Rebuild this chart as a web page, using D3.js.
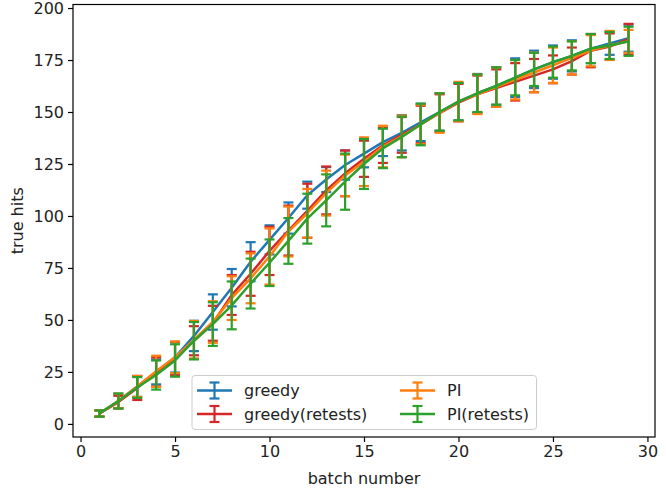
<!DOCTYPE html>
<html>
<head>
<meta charset="utf-8">
<script src="https://cdn.jsdelivr.net/npm/d3@7"></script>
<style>
  html, body { margin: 0; padding: 0; background: #fff; }
  svg { display: block; }
  text { font-family: "DejaVu Sans", sans-serif; }
</style>
</head>
<body>
<svg id="chart" width="666" height="489"></svg>
<script>
const batches = [1,2,3,4,5,6,7,8,9,10,11,12,13,14,15,16,17,18,19,20,21,22,23,24,25,26,27,28,29];

const seriesNames = ["greedy", "greedy(retests)", "PI", "PI(retests)"];
const seriesColors = ["#1f77b4", "#d62728", "#ff7f0e", "#2ca02c"];

const greedyMean = [5, 11, 18, 25, 32, 42.3, 53.8, 65.5, 78, 88.5, 99, 110, 117.5, 124.5, 130, 135.5, 140, 145, 150, 155, 159, 162.5, 166.5, 170.5, 174, 177, 180.5, 183, 185.5];
const greedyErr  = [1.5, 3.5, 5, 6, 7.3, 7.3, 8.5, 9, 9.4, 7, 7.5, 6.5, 6, 7, 6.6, 6.7, 8.5, 9, 9, 9, 9.3, 9, 9.3, 9, 8, 7.5, 7, 5.5, 6.5];

const greedyRtMean = [5, 10.5, 17.3, 25, 31.5, 40, 48.4, 62, 72.2, 83.2, 93, 102.5, 112.3, 120.5, 127.5, 134, 139, 144, 149.5, 154.5, 158.5, 161.5, 164.5, 167.5, 170.5, 174.5, 179.5, 181.5, 185];
const greedyRtErr  = [1.5, 3, 5.8, 7, 8, 7, 8.4, 9.6, 10.6, 11.6, 12, 13, 11.5, 11, 8.7, 8.5, 8.6, 9, 9, 9, 9, 9, 9, 8, 6.7, 6.5, 8, 6.3, 7.4];

const piMean = [5, 11, 18, 25.3, 32, 40.5, 49, 60.5, 70, 80.5, 92.5, 101.3, 111, 119.5, 126.1, 133.4, 138.3, 144, 149.5, 155, 158.5, 162, 165.5, 169, 172.5, 176, 179.5, 182, 184];
const piErr  = [1.5, 3.5, 5, 7.5, 7.6, 9, 10, 10.5, 12, 13.5, 12, 11.7, 10.8, 10, 11.7, 10, 10, 9.5, 9.5, 9.5, 9.5, 9.5, 9.5, 9.5, 8.5, 8, 7.5, 7, 5.5];

const piRtMean = [5, 11, 17.5, 23.5, 30.5, 40, 48, 57, 67.5, 77.5, 88, 98.7, 107.5, 116.5, 125, 132.5, 138, 144, 150, 155, 159, 162.5, 166.5, 170.5, 174, 177, 180.5, 182, 184];
const piRtErr  = [1.5, 3.6, 5, 7, 7.8, 9, 10.5, 11.5, 12, 11.2, 11, 12, 12.5, 13.5, 12, 9.5, 9.8, 10, 9, 9, 9, 9, 8.5, 8, 7.5, 7, 7, 6.5, 7];

const xTicks = [0, 5, 10, 15, 20, 25, 30];
const yTicks = [0, 25, 50, 75, 100, 125, 150, 175, 200];
const xLabel = "batch number";
const yLabel = "true hits";

const seriesData = [
  [greedyMean, greedyErr],
  [greedyRtMean, greedyRtErr],
  [piMean, piErr],
  [piRtMean, piRtErr]
].map((pair, i) => ({
  name: seriesNames[i],
  color: seriesColors[i],
  points: batches.map((b, j) => ({ x: b, y: pair[0][j], e: pair[1][j] }))
}));

const svg = d3.select("#chart");
const L = 73, R = 655, T = 4.5, B = 437;
const x = d3.scaleLinear().domain([-0.4, 30.4]).range([L, R]);
const y = d3.scaleLinear().domain([-6.3, 201.7]).range([B, T]);

const fontSize = 16;
const textColor = "#222";

// axes
const xAxis = svg.append("g").attr("transform", `translate(0,${B})`)
  .call(d3.axisBottom(x).tickValues(xTicks).tickSize(5).tickPadding(4).tickFormat(d3.format("d")));
const yAxis = svg.append("g").attr("transform", `translate(${L},0)`)
  .call(d3.axisLeft(y).tickValues(yTicks).tickSize(5).tickPadding(4).tickFormat(d3.format("d")));
[xAxis, yAxis].forEach(g => {
  g.select(".domain").remove();
  g.selectAll(".tick line").attr("stroke", "#000").attr("stroke-width", 1.2);
  g.selectAll(".tick text").attr("fill", textColor).style("font-size", fontSize + "px")
    .style("font-family", "'DejaVu Sans', sans-serif");
});

// series
const capHalf = 5;
const line = d3.line().x(d => x(d.x)).y(d => y(d.y));
seriesData.forEach(s => {
  const g = svg.append("g");
  const bars = g.selectAll("g.eb").data(s.points).join("g").attr("class", "eb");
  bars.append("line")
    .attr("x1", d => x(d.x)).attr("x2", d => x(d.x))
    .attr("y1", d => y(d.y - d.e)).attr("y2", d => y(d.y + d.e))
    .attr("stroke", s.color).attr("stroke-width", 2.2);
  [-1, 1].forEach(sg => {
    bars.append("line")
      .attr("x1", d => x(d.x) - capHalf).attr("x2", d => x(d.x) + capHalf)
      .attr("y1", d => y(d.y + sg * d.e)).attr("y2", d => y(d.y + sg * d.e))
      .attr("stroke", s.color).attr("stroke-width", 2.2);
  });
  g.append("path").datum(s.points)
    .attr("d", line).attr("fill", "none")
    .attr("stroke", s.color).attr("stroke-width", 2.5)
    .attr("stroke-linejoin", "round").attr("stroke-linecap", "butt");
});

// frame
svg.append("rect").attr("x", L).attr("y", T).attr("width", R - L).attr("height", B - T)
  .attr("fill", "none").attr("stroke", "#000").attr("stroke-width", 1.2);

// axis labels
svg.append("text").attr("x", (L + R) / 2).attr("y", 484).attr("text-anchor", "middle")
  .style("font-size", fontSize + "px").attr("fill", textColor).text(xLabel);
svg.append("text").attr("transform", `translate(23,${(T + B) / 2}) rotate(-90)`)
  .attr("text-anchor", "middle").style("font-size", fontSize + "px").attr("fill", textColor).text(yLabel);

// legend
const lg = svg.append("g");
lg.append("rect").attr("x", 192).attr("y", 375.5).attr("width", 344.5).attr("height", 54)
  .attr("rx", 3).attr("fill", "#fff").attr("fill-opacity", 0.8)
  .attr("stroke", "#cccccc").attr("stroke-width", 1);
const cols = [[197, 244], [400, 447]];
const rows = [390.5, 414];
seriesData.forEach((s, i) => {
  const c = cols[Math.floor(i / 2)], ry = rows[i % 2];
  const hx0 = c[0], hx1 = c[0] + 35, hxm = (hx0 + hx1) / 2;
  lg.append("line").attr("x1", hx0).attr("x2", hx1).attr("y1", ry).attr("y2", ry)
    .attr("stroke", s.color).attr("stroke-width", 2.5);
  lg.append("line").attr("x1", hxm).attr("x2", hxm).attr("y1", ry - 8).attr("y2", ry + 8)
    .attr("stroke", s.color).attr("stroke-width", 2.2);
  [-8, 8].forEach(dy => lg.append("line").attr("x1", hxm - capHalf).attr("x2", hxm + capHalf)
    .attr("y1", ry + dy).attr("y2", ry + dy).attr("stroke", s.color).attr("stroke-width", 2.2));
  lg.append("text").attr("x", c[1]).attr("y", ry).attr("dy", "0.36em")
    .style("font-size", fontSize + "px").attr("fill", textColor).text(s.name);
});
</script>
</body>
</html>
